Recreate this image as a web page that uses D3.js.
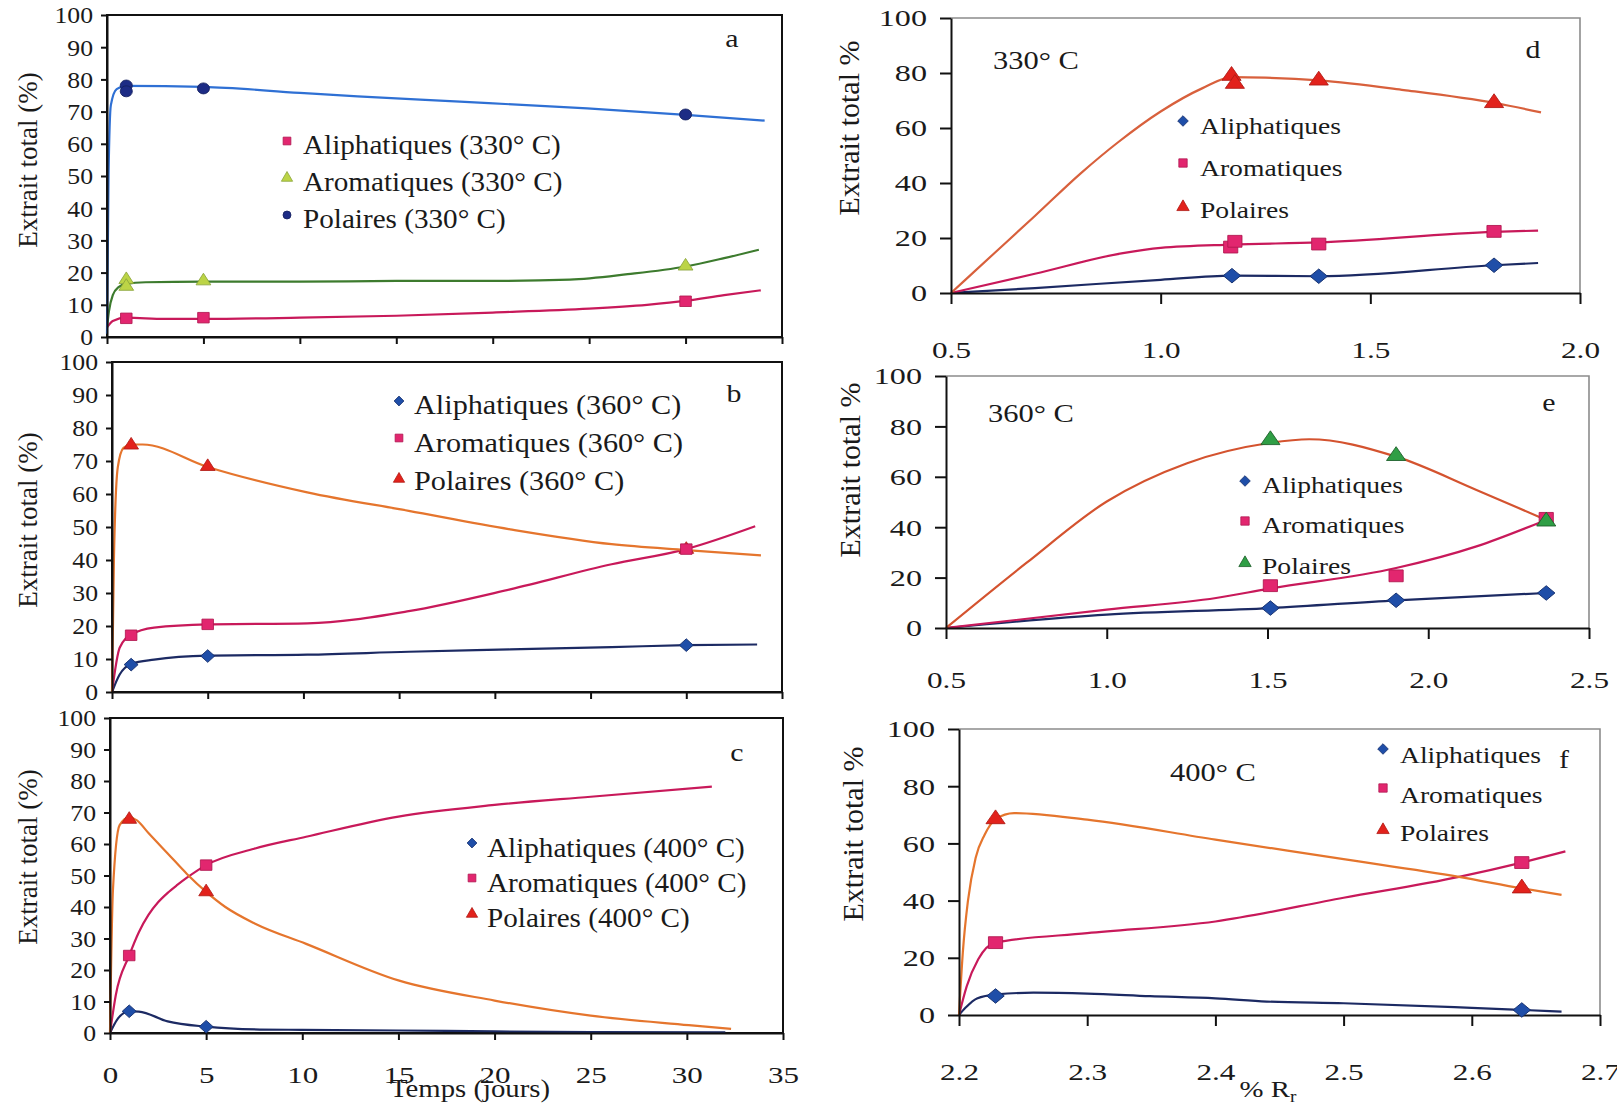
<!DOCTYPE html>
<html><head><meta charset="utf-8">
<script src="https://cdn.jsdelivr.net/npm/d3@7"></script>
<style>body{margin:0;background:#fff}svg{display:block}</style>
</head><body><svg id="chart" width="1617" height="1108"></svg>
<script>
// ---------- DATA ----------
// tick labels
const xTicksDays=[0,5,10,15,20,25,30,35];
const yTicksLeft=[0,10,20,30,40,50,60,70,80,90,100];
const yTicksRight=[0,20,40,60,80,100];
const xTicksD=[0.5,1.0,1.5,2.0];
const xTicksE=[0.5,1.0,1.5,2.0,2.5];
const xTicksF=[2.2,2.3,2.4,2.5,2.6,2.7];

// legends
const legendA=['Aliphatiques (330° C)','Aromatiques (330° C)','Polaires (330° C)'];
const legendB=['Aliphatiques (360° C)','Aromatiques (360° C)','Polaires (360° C)'];
const legendC=['Aliphatiques (400° C)','Aromatiques (400° C)','Polaires (400° C)'];
const legendRight=['Aliphatiques','Aromatiques','Polaires'];

// Panel a (330 °C, temps en jours)
const aAliphMarks=[[1,5.8],[5,6.0],[30,11.1]];
const aAromMarks=[[1,17.8],[1,15.7],[5,17.4],[30,22.0]];
const aPolMarks=[[1,78.1],[1,76.3],[5,77.2],[30,69.1]];
const aAliphCurve=[[0,3],[0.3,5],[1,6],[3,5.6],[5,5.6],[10,6],[15,6.6],[20,7.6],[25,8.8],[28,10],[30,11.2],[32,13],[33.9,14.5]];
const aAromCurve=[[0,3],[0.1,8],[0.3,13],[0.6,15.5],[1,16.5],[2,17],[5,17.2],[10,17.2],[15,17.4],[20,17.4],[24,17.8],[27,19.5],[30,21.9],[32,24.5],[33.8,27.1]];
const aPolCurve=[[0,1],[0.08,50],[0.2,72],[0.5,77],[1,78],[5,77.7],[10,75.8],[13,74.7],[18.3,73.1],[24.9,71],[30,69],[34.1,67.2]];

// Panel b (360 °C)
const bAliphMarks=[[1,8.3],[5,10.9],[30,14.2]];
const bAromMarks=[[1,17.2],[5,20.5],[30,43.3]];
const bPolMarks=[[1,74.8],[5,68.3],[30,43.2]];
const bAliphCurve=[[0,0],[0.4,5.3],[1,8.5],[2.2,9.8],[5,11],[10.2,11.3],[15.5,12.2],[20.8,12.9],[26.1,13.6],[30,14.2],[33.7,14.4]];
const bAromCurve=[[0,0],[0.4,13.4],[1,17.4],[2.2,19.5],[5,20.5],[10.2,20.8],[15.5,24.5],[20.8,31.1],[26.1,38.7],[30,43.3],[33.6,50.2]];
const bPolCurve=[[0,0],[0.1,40],[0.3,68],[0.6,74],[1,75],[1.6,75],[5,68.2],[10.2,60.5],[15.5,54.9],[20.8,49.3],[26.1,44.8],[30,43],[33.9,41.4]];

// Panel c (400 °C)
const cAliphMarks=[[1,6.9],[5,2.0]];
const cAromMarks=[[1,24.6],[5,53.3]];
const cPolMarks=[[1,67.8],[5,44.8]];
const cAliphCurve=[[0,0],[0.4,4.5],[1,6.9],[1.5,6.8],[3,3.7],[5,2],[7.8,1.1],[10,1],[15,0.8],[20,0.5],[25,0.3],[32,0.2]];
const cAromCurve=[[0,0],[0.3,12],[1,24.6],[1.5,32],[2,37.5],[2.5,41.5],[3,44.5],[3.5,47],[4,49.3],[5,53.3],[7.5,58.5],[10.2,62.3],[15,68.7],[20,72.4],[25,75],[31.3,78.2]];
const cPolCurve=[[0,0],[0.15,45],[0.5,66],[1,68.5],[1.4,67.5],[2,63.5],[3,57],[4,50.5],[5,44.8],[6,40],[7.55,34.7],[10.2,28.3],[15,16.7],[20,10.3],[25,5.5],[30.1,2.5],[32.3,1.3]];

// Panel d (330 °C, % Rr)
const dAliphMarks=[[1.17,6.3],[1.377,6.1],[1.795,10.1]];
const dAromMarks=[[1.167,16.7],[1.177,18.8],[1.377,17.8],[1.795,22.4]];
const dPolMarks=[[1.169,79.0],[1.177,76.1],[1.377,77.3],[1.795,69.1]];
const dAliphCurve=[[0.5,0],[0.7,1.8],[1.0,4.8],[1.17,6.3],[1.377,6.1],[1.795,10.1],[1.9,10.9]];
const dAromCurve=[[0.5,0],[0.7,7],[0.91,14.5],[1.0,16.4],[1.17,17.6],[1.377,18.4],[1.795,22.2],[1.9,22.7]];
const dPolCurve=[[0.5,0],[0.6,14],[0.7,28],[0.81,43.6],[0.9,55],[1.0,66],[1.1,74.5],[1.17,78.5],[1.25,78.3],[1.377,77.3],[1.58,73.8],[1.8,69],[1.907,65.7]];

// Panel e (360 °C)
const eAliphMarks=[[1.509,7.9],[1.9,11.0],[2.367,13.9]];
const eAromMarks=[[1.509,16.8],[1.9,20.7],[2.367,43.5]];
const ePolMarks=[[1.509,74.6],[1.9,68.3],[2.367,42.3]];
const eAliphCurve=[[0.5,0],[1.0,5.3],[1.509,7.9],[1.9,11.0],[2.367,13.9]];
const eAromCurve=[[0.5,0],[1.0,7.3],[1.34,11.9],[1.5,15.5],[1.9,23.8],[2.15,32.4],[2.367,42.9]];
const ePolCurve=[[0.5,0],[0.75,25.8],[1.0,50.2],[1.25,65.4],[1.5,73.3],[1.63,74.9],[1.9,68],[2.15,54.8],[2.367,42.9]];

// Panel f (400 °C)
const fAliphMarks=[[2.2285,6.65],[2.639,1.75]];
const fAromMarks=[[2.2285,25.3],[2.639,53.3]];
const fPolMarks=[[2.2285,68.5],[2.639,44.3]];
const fAliphCurve=[[2.2,0],[2.205,2.5],[2.214,5.8],[2.2295,7.2],[2.258,7.8],[2.3,7.5],[2.349,6.6],[2.4,5.8],[2.44,4.7],[2.5,4.1],[2.6,2.5],[2.67,1.2]];
const fAromCurve=[[2.2,0],[2.206,10],[2.215,19.5],[2.2285,25.3],[2.3,28.6],[2.4,32.7],[2.5,41],[2.59,48.3],[2.639,53.3],[2.673,57.2]];
const fPolCurve=[[2.2,0],[2.203,22],[2.207,40],[2.213,55],[2.22,63],[2.2285,68.5],[2.243,70.6],[2.3,68.3],[2.4,61.3],[2.5,54.5],[2.59,48.3],[2.639,44.3],[2.67,42]];

// ---------- DRAWING ----------
const FONT="'Liberation Serif','Times New Roman',Times,serif";
const INK='#1a1a1a';
const svg=d3.select('#chart');

function stretch(sel,k){
  sel.each(function(){
    const t=d3.select(this);
    const x=+t.attr('x')||0, y=+t.attr('y')||0;
    t.attr('x',null).attr('y',null).attr('transform',`translate(${x},${y}) scale(${k},1)`);
  });
}
function addText(parent,x,y,str,fs,k,anchor){
  const t=parent.append('text').attr('x',x).attr('y',y).text(str)
    .attr('font-family',FONT).attr('font-size',fs).attr('fill',INK)
    .attr('text-anchor',anchor||'start');
  if(k && k!==1) stretch(t,k);
  return t;
}
const SYM={square:d3.symbolSquare,diamond:d3.symbolSquare,triangle:d3.symbolTriangle,circle:d3.symbolCircle};
function drawMarker(parent,type,cx,cy,area,fill,stroke,k){
  parent.append('path')
    .attr('d',d3.symbol().type(SYM[type]).size(area)())
    .attr('transform',`translate(${cx},${cy}) scale(${k},1)`+(type==='diamond'?' rotate(45)':''))
    .attr('fill',fill).attr('stroke',stroke).attr('stroke-width',0.8);
}

const AREA_L={square:110,diamond:80,triangle:78,circle:95};
const AREA_R={square:140,diamond:105,triangle:110,circle:95};
const AREA_LEG_L={square:60,diamond:48,triangle:55,circle:50};
const AREA_LEG_R={square:70,diamond:56,triangle:66,circle:50};

const CRIM_L='#c8195a', CRIM_M='#e2266f';
const NAVY_L='#1c2a63', NAVY_M='#1f4ea8';
const ORNG_L='#e5752d', RED_M='#e2221c';

function drawPanel(p){
  const x=d3.scaleLinear().domain(p.xd).range([p.l,p.r]);
  const y=d3.scaleLinear().domain([0,100]).range([p.b,p.t]);
  const g=svg.append('g');
  if(p.left){
    g.append('rect').attr('x',p.l).attr('y',p.t).attr('width',p.r-p.l).attr('height',p.b-p.t)
      .attr('fill','none').attr('stroke','#111').attr('stroke-width',2);
  } else {
    g.append('path').attr('d',`M${p.l},${p.t}H${p.r}V${p.b}`)
      .attr('fill','none').attr('stroke','#8c8c8c').attr('stroke-width',1.6);
  }
  const line=d3.line().x(d=>x(d[0])).y(d=>y(d[1])).curve(d3.curveMonotoneX);
  p.series.forEach(s=>{
    g.append('path').datum(s.curve).attr('d',line).attr('fill','none')
      .attr('stroke',s.line).attr('stroke-width',2.2).attr('stroke-linejoin','round');
  });
  // axes
  const ya=d3.axisLeft(y).tickValues(p.yTicks).tickSize(p.ytS).tickPadding(p.ytP).tickSizeOuter(0);
  const yg=g.append('g').attr('transform',`translate(${p.l},0)`).call(ya);
  const xa=d3.axisBottom(x).tickValues(p.xTicks).tickSize(p.xtS).tickSizeOuter(0).tickFormat(p.xFmt);
  const xg=g.append('g').attr('transform',`translate(0,${p.b})`).call(xa);
  [yg,xg].forEach(a=>{
    a.select('.domain').attr('stroke','#111').attr('stroke-width',2);
    a.selectAll('.tick line').attr('stroke','#111').attr('stroke-width',2);
  });
  yg.selectAll('text').attr('font-family',FONT).attr('font-size',p.yFs).attr('fill',INK).attr('dy','0.34em');
  stretch(yg.selectAll('text'),p.yK);
  xg.selectAll('text').attr('font-family',FONT).attr('font-size',p.xFs).attr('fill',INK)
    .attr('dy',null).attr('y',p.xLabOff);
  stretch(xg.selectAll('text'),p.xK);
  // markers
  const order=p.markOrder||[0,1,2];
  const area=p.left?AREA_L:AREA_R;
  order.forEach(i=>{
    const s=p.series[i];
    s.marks.forEach(d=>drawMarker(g,s.sym,x(d[0]),y(d[1]),area[s.sym],s.fill,s.stroke,p.mk));
  });
  // legend
  const lg=p.legend;
  const la=p.left?AREA_LEG_L:AREA_LEG_R;
  p.series.forEach((s,i)=>{
    drawMarker(g,s.sym,lg.mx,lg.my[i],la[s.sym],s.fill,s.stroke,1);
    addText(g,lg.tx,lg.ty[i],lg.labels[i],lg.fs,lg.k,'start').attr('dy','0.33em');
  });
  // panel letter
  addText(g,p.letter[1],p.letter[2],p.letter[0],p.letterFs,1.15,'middle').attr('dy','0.33em');
  return {x,y,g};
}

const fmt1=d3.format('.1f');
const leftBase={left:true,xd:[0,35],xTicks:xTicksDays,yTicks:yTicksLeft,ytS:6,ytP:8,xtS:7,
  yFs:23,yK:1.12,xFs:23,xK:1.35,xLabOff:50,mk:1.1,letterFs:26};
const rightBase={left:false,yTicks:yTicksRight,ytS:11,ytP:13,xtS:11,
  yFs:23,yK:1.4,xFs:24,xK:1.3,xFmt:fmt1,mk:1.2,letterFs:26};

drawPanel(Object.assign({},leftBase,{l:107,r:782,t:15,b:337,xFmt:()=>'',
  series:[
    {curve:aAliphCurve,marks:aAliphMarks,line:CRIM_L,sym:'square',fill:CRIM_M,stroke:'#b01850'},
    {curve:aAromCurve,marks:aAromMarks,line:'#3d7b2e',sym:'triangle',fill:'#bcd446',stroke:'#8aa53a'},
    {curve:aPolCurve,marks:aPolMarks,line:'#2f70d4',sym:'circle',fill:'#1d2c85',stroke:'#14205e'}],
  legend:{mx:287,tx:303,my:[141,178,215],ty:[145,182,219],labels:legendA,fs:27,k:1.08},
  letter:['a',732,38]}));

drawPanel(Object.assign({},leftBase,{l:112,r:782,t:362,b:692,xFmt:()=>'',markOrder:[2,1,0],
  series:[
    {curve:bAliphCurve,marks:bAliphMarks,line:NAVY_L,sym:'diamond',fill:NAVY_M,stroke:'#16306e'},
    {curve:bAromCurve,marks:bAromMarks,line:CRIM_L,sym:'square',fill:CRIM_M,stroke:'#b01850'},
    {curve:bPolCurve,marks:bPolMarks,line:ORNG_L,sym:'triangle',fill:RED_M,stroke:'#b01a14'}],
  legend:{mx:399,tx:414,my:[401,438,479],ty:[405,443,481],labels:legendB,fs:27,k:1.12},
  letter:['b',734,393]}));

drawPanel(Object.assign({},leftBase,{l:110,r:783,t:718,b:1033,xFmt:d3.format('d'),
  series:[
    {curve:cAliphCurve,marks:cAliphMarks,line:NAVY_L,sym:'diamond',fill:NAVY_M,stroke:'#16306e'},
    {curve:cAromCurve,marks:cAromMarks,line:CRIM_L,sym:'square',fill:CRIM_M,stroke:'#b01850'},
    {curve:cPolCurve,marks:cPolMarks,line:ORNG_L,sym:'triangle',fill:RED_M,stroke:'#b01a14'}],
  legend:{mx:472,tx:487,my:[843,878,914],ty:[848,883,918],labels:legendC,fs:27,k:1.08},
  letter:['c',737,752]}));

drawPanel(Object.assign({},rightBase,{l:951,r:1580,t:18,b:293,xd:[0.5,2.0],xTicks:xTicksD,xLabOff:65,
  series:[
    {curve:dAliphCurve,marks:dAliphMarks,line:NAVY_L,sym:'diamond',fill:NAVY_M,stroke:'#16306e'},
    {curve:dAromCurve,marks:dAromMarks,line:CRIM_L,sym:'square',fill:CRIM_M,stroke:'#b01850'},
    {curve:dPolCurve,marks:dPolMarks,line:'#d8603c',sym:'triangle',fill:RED_M,stroke:'#b01a14'}],
  legend:{mx:1183,tx:1200,my:[121,163,207],ty:[126,168,210],labels:legendRight,fs:24,k:1.15},
  letter:['d',1533,49]}));

drawPanel(Object.assign({},rightBase,{l:946,r:1589,t:376,b:628,xd:[0.5,2.5],xTicks:xTicksE,xLabOff:60,
  series:[
    {curve:eAliphCurve,marks:eAliphMarks,line:NAVY_L,sym:'diamond',fill:NAVY_M,stroke:'#16306e'},
    {curve:eAromCurve,marks:eAromMarks,line:CRIM_L,sym:'square',fill:CRIM_M,stroke:'#b01850'},
    {curve:ePolCurve,marks:ePolMarks,line:'#d4532f',sym:'triangle',fill:'#2f9e45',stroke:'#1d5e2a'}],
  legend:{mx:1245,tx:1262,my:[481,521,563],ty:[485,525,566],labels:legendRight,fs:24,k:1.15},
  letter:['e',1549,402]}));

drawPanel(Object.assign({},rightBase,{l:959,r:1600,t:729,b:1015,xd:[2.2,2.7],xTicks:xTicksF,xLabOff:65,
  series:[
    {curve:fAliphCurve,marks:fAliphMarks,line:NAVY_L,sym:'diamond',fill:NAVY_M,stroke:'#16306e'},
    {curve:fAromCurve,marks:fAromMarks,line:CRIM_L,sym:'square',fill:CRIM_M,stroke:'#b01850'},
    {curve:fPolCurve,marks:fPolMarks,line:ORNG_L,sym:'triangle',fill:RED_M,stroke:'#b01a14'}],
  legend:{mx:1383,tx:1400,my:[749,788,830],ty:[755,795,833],labels:legendRight,fs:24,k:1.15},
  letter:['f',1564,759]}));

// temperature labels in right panels
addText(svg,993,69,'330° C',25,1.22,'start');
addText(svg,988,422,'360° C',25,1.22,'start');
addText(svg,1170,781,'400° C',25,1.22,'start');

// y-axis titles
function yTitle(x,y,str,fs){
  svg.append('text').attr('transform',`translate(${x},${y}) rotate(-90)`)
    .attr('text-anchor','middle').attr('dy','0.35em').attr('font-family',FONT)
    .attr('font-size',fs).attr('fill',INK).text(str);
}
yTitle(28,160,'Extrait total (%)',27);
yTitle(28,520,'Extrait total (%)',27);
yTitle(28,857,'Extrait total (%)',27);
yTitle(848,128,'Extrait total %',30);
yTitle(849,470,'Extrait total %',30);
yTitle(852,834,'Extrait total %',30);

// x-axis titles
addText(svg,470,1097,'Temps (jours)',25,1.15,'middle');
const rr=svg.append('text').attr('x',1268).attr('y',1097).attr('text-anchor','middle')
  .attr('font-family',FONT).attr('font-size',24).attr('fill',INK);
rr.append('tspan').text('% R');
rr.append('tspan').attr('font-size',16).attr('dy',5).text('r');
stretch(rr,1.2);
</script></body></html>
